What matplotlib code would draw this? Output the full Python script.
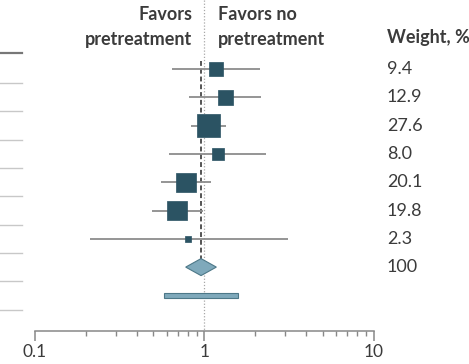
import numpy as np
import matplotlib
matplotlib.use("Agg")
import matplotlib.pyplot as plt
from matplotlib.transforms import blended_transform_factory
from matplotlib.ticker import NullFormatter, FixedLocator, FixedFormatter
from matplotlib.patches import Polygon, Rectangle

# Study-level risk ratios with 95% CIs and weights
estimates = [1.17, 1.33, 1.06, 1.20, 0.78, 0.69, 0.80]
ci_low = [0.645, 0.816, 0.838, 0.616, 0.557, 0.491, 0.211]
ci_high = [2.12, 2.15, 1.35, 2.32, 1.095, 0.98, 3.10]
weights = [9.4, 12.9, 27.6, 8.0, 20.1, 19.8, 2.3]
weight_labels = ["9.4", "12.9", "27.6", "8.0", "20.1", "19.8", "2.3", "100"]

# Pooled estimate and prediction interval
pooled = 0.956
pooled_low, pooled_high = 0.776, 1.177
pred_low, pred_high = 0.575, 1.58

tick_values = [0.1, 1, 10]
tick_labels = ["0.1", "1", "10"]
minor_values = [m * d for d in (0.1, 1) for m in range(2, 10)]

W, H = 469, 364
fig = plt.figure(figsize=(W / 100, H / 100), dpi=100)
ax = fig.add_axes([0, 0, 1, 1])
ax.set_xscale("log")

# Layout: 0.1 at 35 px, 10 at 373.7 px; rows every 28.3 px starting at 69 px
px0, px_decade = 35.0, 169.35
lmin = -1 - px0 / px_decade
lmax = -1 + (W - px0) / px_decade
ax.set_xlim(10 ** lmin, 10 ** lmax)
row0, row_h = 69.0, 28.3
ax.set_ylim((H - row0) / row_h, -row0 / row_h)

dark = "#2b5363"
light = "#7fa9bb"
edge = "#4d7888"
grey_line = "#8c8c8c"
text_col = "#3b3b3b"

n = len(estimates)
rows = np.arange(n)
axis_row = (330.7 - row0) / row_h

# Reference line at 1 (dotted) and pooled estimate (dashed)
ax.plot([1, 1], [-row0 / row_h, axis_row], color="#a8a8a8", lw=0.9,
        ls=(0, (1, 1.5)), zorder=1)
diamond_half = 8.5 / row_h
ax.plot([pooled, pooled], [-0.27, n - diamond_half], color="#555555", lw=1.4,
        ls=(0, (2.5, 1.5)), zorder=2)

# Confidence intervals and weighted squares
for r, lo, hi in zip(rows, ci_low, ci_high):
    ax.plot([lo, hi], [r, r], color=grey_line, lw=1.3, zorder=3, solid_capstyle="butt")
ax.scatter(estimates, rows, s=np.array(weights) * 9.7, marker="s",
           color=dark, edgecolors=dark, linewidths=0.5, zorder=4)

# Pooled diamond
dr = n
diamond = Polygon([[pooled_low, dr], [pooled, dr - diamond_half],
                   [pooled_high, dr], [pooled, dr + diamond_half]],
                  closed=True, facecolor=light, edgecolor=edge, lw=0.8, zorder=4)
ax.add_patch(diamond)

# Prediction interval bar
pr = n + 1
bar_h = 5.6 / row_h
ax.add_patch(Rectangle((pred_low, pr - bar_h / 2), pred_high - pred_low, bar_h,
                       facecolor=light, edgecolor=edge, lw=0.8, zorder=4))

# Row separators on the left edge
tr = blended_transform_factory(fig.transFigure, ax.transData)
ax.plot([0, 22 / W], [-0.56, -0.56], color="#777777", lw=1.6, transform=tr)
for k in range(n + 2):
    ax.plot([0, 22 / W], [k + 0.5, k + 0.5], color="#c8c8c8", lw=1.0, transform=tr)

family = ["Lato", "DejaVu Sans"]

# Bottom axis
for s in ["top", "left", "right"]:
    ax.spines[s].set_visible(False)
ax.spines["bottom"].set_position(("data", axis_row))
ax.spines["bottom"].set_bounds(0.1, 10)
ax.spines["bottom"].set_color("#888888")
ax.spines["bottom"].set_linewidth(1.1)
ax.xaxis.set_major_locator(FixedLocator(tick_values))
ax.xaxis.set_major_formatter(FixedFormatter(tick_labels))
ax.xaxis.set_minor_locator(FixedLocator(minor_values))
ax.xaxis.set_minor_formatter(NullFormatter())
ax.tick_params(axis="x", which="major", direction="out", length=7.2, width=1.1,
               color="#888888", labelsize=12.5, labelcolor=text_col, pad=2.5)
ax.tick_params(axis="x", which="minor", direction="out", length=3.8, width=1.0,
               color="#888888")
for lab in ax.get_xticklabels():
    lab.set_family(family)
ax.set_yticks([])
ax.patch.set_alpha(0)

# Column headers
hdr = dict(transform=tr, va="center", fontsize=13, fontweight="bold",
           color=text_col, family=family)
ax.text(192 / W, -1.91, "Favors", ha="right", **hdr)
ax.text(192 / W, -1.06, "pretreatment", ha="right", **hdr)
ax.text(218 / W, -1.91, "Favors no", ha="left", **hdr)
ax.text(218 / W, -1.06, "pretreatment", ha="left", **hdr)
ax.text(387 / W, -1.1, "Weight, %", ha="left", **hdr)

for r, lab in enumerate(weight_labels):
    ax.text(387 / W, r, lab, transform=tr, ha="left", va="center",
            fontsize=13, color=text_col, family=family)

fig.savefig("out.png", dpi=100)
